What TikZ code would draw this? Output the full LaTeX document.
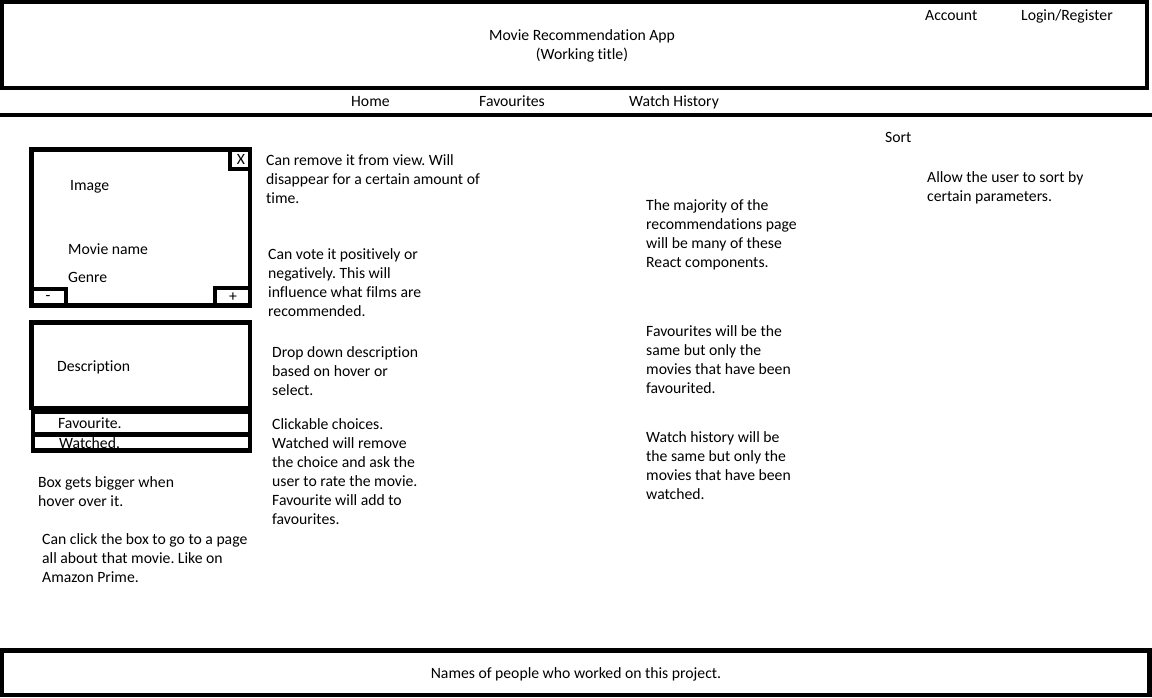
\documentclass[tikz,border=0pt]{standalone}
\usepackage{fontspec}
\setmainfont[Ligatures=NoCommon]{Carlito}
\usetikzlibrary{positioning}
\frenchspacing

\tikzset{
	frame/.style={line width=4.5pt},
	txt/.style={anchor=base west, inner sep=0pt, align=left, font=\fontsize{15.7}{19}\selectfont},
	sym/.style={anchor=center, inner sep=0pt, font=\fontsize{15.7}{19}\selectfont}
}

\begin{document}
\begin{tikzpicture}[x=1pt, y=-1pt]
		%%%%% START %%%%%
		\useasboundingbox (0, 0) rectangle (1152, 698);
		
		% header (multi-line nodes sit on their last baseline)
		\draw[frame] (2, 2) rectangle (1147, 88);
		\node[txt, anchor=base, align=center] (apptitle) at (582, 59.5) {Movie Recommendation App\\(Working title)};
		\node[txt] (account) at (925, 21) {Account};
		\node[txt] (login) at (1021, 21) {Login/Register};
		
		% nav bar
		\node[txt] (home) at (351, 106.5) {Home};
		\node[txt] (favs) at (479, 106.5) {Favourites};
		\node[txt] (history) at (629, 106.5) {Watch History};
		\draw[frame] (0, 115) -- (1152, 115);
		
		\node[txt] (sort) at (885, 142.5) {Sort};
		
		% movie card
		\draw[frame] (31.5, 149.5) rectangle (250, 305.5);
		\draw[frame] (230, 149.5) rectangle (250, 169);
		\draw[frame] (31.5, 289) rectangle (66, 305.5);
		\draw[frame] (215, 288) rectangle (250, 305.5);
		\node[sym] (close) at (241, 159) {X};
		\node[sym] (minus) at (48, 298) {-};
		\node[sym] (plus) at (233, 297) {+};
		\node[txt] (image) at (70, 190.5) {Image};
		\node[txt] (moviename) at (68, 254.5) {Movie name};
		\node[txt] (genre) at (68, 282.5) {Genre};
		
		\draw[frame] (31.5, 322.5) rectangle (250, 408);
		\node[txt] (descr) at (57, 371.5) {Description};
		\draw[frame] (33, 412) rectangle (250, 434.5);
		\draw[frame] (33, 434.5) rectangle (250, 450.5);
		\node[txt] (favourite) at (58, 428.5) {Favourite.};
		\node[txt] (watched) at (59, 448.5) {Watched.};
		
		% notes
		\node[txt] (biggernote) at (38, 506.5) {Box gets bigger when\\hover over it.};
		\node[txt] (clicknote) at (42, 582.5) {Can click the box to go to a page\\all about that movie. Like on\\Amazon Prime.};
		\node[txt] (removenote) at (266, 203.5) {Can remove it from view. Will\\disappear for a certain amount of\\time.};
		\node[txt] (votenote) at (268, 316.5) {Can vote it positively or\\negatively. This will\\influence what films are\\recommended.};
		\node[txt] (dropnote) at (272, 395.5) {Drop down description\\based on hover or\\select.};
		\node[txt] (choicenote) at (272, 524.5) {Clickable choices.\\Watched will remove\\the choice and ask the\\user to rate the movie.\\Favourite will add to\\favourites.};
		\node[txt] (pagenote) at (646, 267.5) {The majority of the\\recommendations page\\will be many of these\\React components.};
		\node[txt] (favnote) at (646, 393.5) {Favourites will be the\\same but only the\\movies that have been\\favourited.};
		\node[txt] (historynote) at (646, 499.5) {Watch history will be\\the same but only the\\movies that have been\\watched.};
		\node[txt] (sortnote) at (927, 201.5) {Allow the user to sort by\\certain parameters.};
		
		% footer
		\draw[frame] (2, 650.5) rectangle (1149.5, 695);
		\node[txt, anchor=base] (names) at (576, 678.5) {Names of people who worked on this project.};
		%%%%% END %%%%%
	\end{tikzpicture}
\end{document}
